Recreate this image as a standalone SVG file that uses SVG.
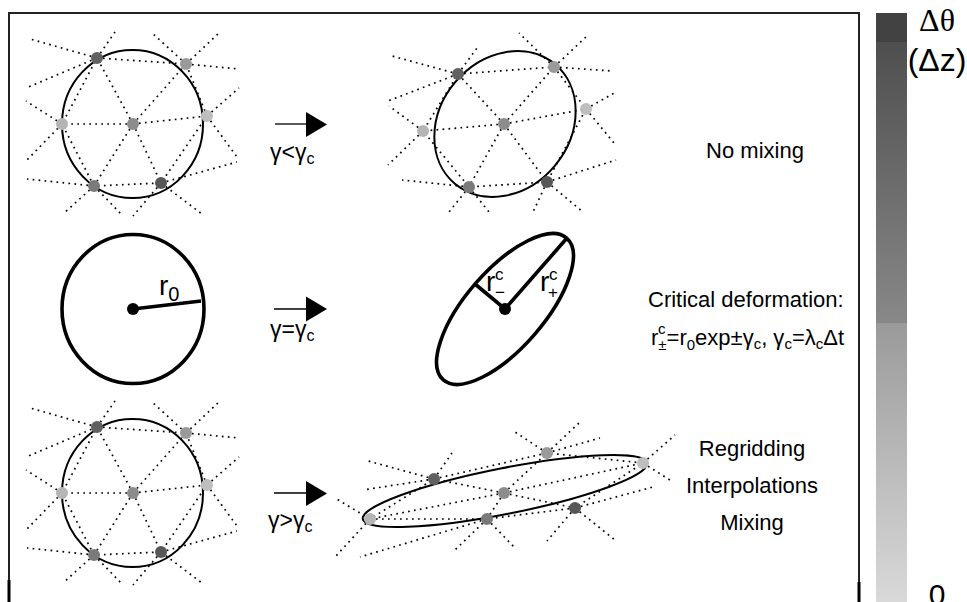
<svg xmlns="http://www.w3.org/2000/svg" width="967" height="602" viewBox="0 0 967 602">
<style>
.dot{fill:none;stroke:#000;stroke-width:1.7;stroke-dasharray:1.7 4.3}
.thin{fill:none;stroke:#000;stroke-width:2}
.thick{fill:none;stroke:#000;stroke-width:3.6}
.t{font-family:"Liberation Sans",Arial,sans-serif;fill:#000}
.n1{fill:#616161}.n2{fill:#9a9a9a}.n3{fill:#bebebe}.n4{fill:#b5b5b5}.n5{fill:#8c8c8c}.n6{fill:#7a7a7a}.n7{fill:#575757}
</style>
<defs>
<linearGradient id="gTop" gradientUnits="userSpaceOnUse" x1="0" y1="42" x2="0" y2="323">
<stop offset="0" stop-color="#4f4f4f"/><stop offset="1" stop-color="#888888"/>
</linearGradient>
<linearGradient id="gBot" gradientUnits="userSpaceOnUse" x1="0" y1="323" x2="0" y2="602">
<stop offset="0" stop-color="#9a9a9a"/><stop offset="1" stop-color="#d9d9d9"/>
</linearGradient>
<polygon id="head" points="0,-12.5 21,0 0,12.5" fill="#000"/>
<g id="grid1">
<path class="dot" d="M133 124L97 58M133 124L186 64M133 124L207 116M133 124L62 124M133 124L94 186M133 124L161 183M97 58L186 64L207 116L161 183L94 186L62 124Z
M97 58L30 39M97 58L115 32M97 58L26 88M186 64L151 32M186 64L219 33M186 64L239 69M207 116L239 88M207 116L237 157M62 124L26 101M62 124L27 160M94 186L27 179M94 186L63 214M94 186L123 216M161 183L237 162M161 183L133 216M161 183L202 214"/>
<ellipse class="thin" cx="132.5" cy="124" rx="70.5" ry="74"/>
<circle class="n1" cx="97" cy="58" r="6"/><circle class="n2" cx="186" cy="64" r="6"/><circle class="n3" cx="207" cy="116" r="6"/><circle class="n4" cx="62" cy="124" r="6"/><circle class="n5" cx="133" cy="124" r="6"/><circle class="n6" cx="94" cy="186" r="6"/><circle class="n7" cx="161" cy="183" r="6"/>
</g>
</defs>

<g id="frame">
<path d="M9 602V13H859V602" fill="none" stroke="#222" stroke-width="2"/>
<path d="M9 580V602M859 582V602" stroke="#000" stroke-width="3"/>
</g>

<g id="row1-initial"><use href="#grid1"/></g>

<g id="row1-deformed">
<path class="dot" d="M504 124L458 74M504 124L554 67M504 124L586 109M504 124L423 131M504 124L469 187M504 124L547 182M458 74L554 67L586 109L547 182L469 187L423 131Z
M458 74L392 56M458 74L477 48M458 74L388 101M554 67L519 33M554 67L587 36M554 67L612 71M586 109L616 92M586 109L614 143M423 131L389 106M423 131L388 165M469 187L402 180M469 187L449 212M469 187L489 212M547 182L616 160M547 182L533 212M547 182L583 212"/>
<ellipse class="thin" cx="505" cy="124" rx="78" ry="65" transform="rotate(-50 505 124)"/>
<circle class="n1" cx="458" cy="74" r="6"/><circle class="n2" cx="554" cy="67" r="6"/><circle class="n3" cx="586" cy="109" r="6"/><circle class="n4" cx="423" cy="131" r="6"/><circle class="n5" cx="504" cy="124" r="6"/><circle class="n6" cx="469" cy="187" r="6"/><circle class="n7" cx="547" cy="182" r="6"/>
</g>
<g id="row1-label"><text class="t" x="755" y="158" font-size="22" text-anchor="middle">No mixing</text></g>

<g id="row2-circle">
<ellipse class="thick" cx="133" cy="309" rx="71" ry="74.5"/>
<line class="thick" x1="133" y1="309" x2="201" y2="301"/>
<circle cx="133" cy="309" r="6" fill="#000"/>
<text class="t" x="159" y="295" font-size="28">r<tspan font-size="20" dy="6">0</tspan></text>
</g>

<g id="row2-ellipse">
<ellipse class="thick" cx="505" cy="309" rx="94" ry="39" transform="rotate(-49 505 309)"/>
<path class="thick" d="M567 238L505 309L475 284"/>
<circle cx="505" cy="309" r="6" fill="#000"/>
<text class="t" x="486" y="291" font-size="28">r</text>
<text class="t" x="495" y="280" font-size="17">c</text>
<text class="t" x="495" y="298" font-size="17">−</text>
<text class="t" x="540" y="291" font-size="28">r</text>
<text class="t" x="549" y="280" font-size="17">c</text>
<text class="t" x="548" y="298" font-size="17">+</text>
</g>
<g id="row2-label">
<text class="t" x="648" y="307" font-size="22">Critical deformation:</text>
<text class="t" x="651" y="345" font-size="22">r<tspan font-size="15" dy="5">±</tspan><tspan dy="-5">=r</tspan><tspan font-size="15" dy="5">0</tspan><tspan dy="-5">exp±γ</tspan><tspan font-size="15" dy="4">c</tspan><tspan dy="-4">, γ</tspan><tspan font-size="15" dy="4">c</tspan><tspan dy="-4">=λ</tspan><tspan font-size="15" dy="4">c</tspan><tspan dy="-4">Δt</tspan></text>
<text class="t" x="658" y="334" font-size="15">c</text>
</g>

<g id="row3-initial"><use href="#grid1" transform="translate(0,369)"/></g>

<g id="row3-deformed">
<path class="dot" d="M504 493L434 479M504 493L547 453M504 493L643 463M504 493L370 519M504 493L487 519M504 493L575 508M434 479L547 453L643 463L575 508L487 519L370 519Z
M434 479L368 461M434 479L452 453M434 479L363 490M547 453L512 430M547 453L579 423M547 453L600 438M643 463L675 435M643 463L673 482M370 519L335 498M370 519L335 557M487 519L360 557M487 519L455 550M487 519L515 548M575 508L653 487M575 508L547 541M575 508L615 540"/>
<ellipse class="thin" cx="505" cy="491" rx="145" ry="23" transform="rotate(-11.2 505 491)"/>
<circle class="n1" cx="434" cy="479" r="6"/><circle class="n2" cx="547" cy="453" r="6"/><circle class="n3" cx="643" cy="463" r="6"/><circle class="n4" cx="370" cy="519" r="6"/><circle class="n5" cx="504" cy="493" r="6"/><circle class="n6" cx="487" cy="519" r="6"/><circle class="n7" cx="575" cy="508" r="6"/>
</g>
<g id="row3-label">
<text class="t" x="752" y="456" font-size="22" text-anchor="middle">Regridding</text>
<text class="t" x="752" y="493" font-size="22" text-anchor="middle">Interpolations</text>
<text class="t" x="752" y="530" font-size="22" text-anchor="middle">Mixing</text>
</g>

<g id="connectors">
<line x1="275" y1="124" x2="307" y2="124" stroke="#000" stroke-width="1.3"/>
<use href="#head" x="306" y="124.5"/>
<text class="t" x="270" y="160" font-size="23">γ&lt;γ<tspan font-size="16" dy="4">c</tspan></text>
<line x1="274" y1="309" x2="307" y2="309" stroke="#000" stroke-width="1.3"/>
<use href="#head" x="306" y="309"/>
<text class="t" x="270" y="337" font-size="23">γ=γ<tspan font-size="16" dy="4">c</tspan></text>
<line x1="274" y1="493" x2="307" y2="493" stroke="#000" stroke-width="1.3"/>
<use href="#head" x="306" y="493.5"/>
<text class="t" x="268" y="528" font-size="23">γ&gt;γ<tspan font-size="16" dy="4">c</tspan></text>
</g>

<g id="colorbar">
<rect x="876" y="13" width="31" height="29" fill="#424242"/>
<rect x="876" y="42" width="31" height="281" fill="url(#gTop)"/>
<rect x="876" y="323" width="31" height="279" fill="url(#gBot)"/>
<text x="937" y="31" font-size="32" text-anchor="middle" font-family="'Liberation Serif','DejaVu Serif',serif">Δθ</text>
<text class="t" x="937" y="71" font-size="32" text-anchor="middle">(Δz)</text>
<text class="t" x="937" y="605" font-size="30" text-anchor="middle">0</text>
</g>
</svg>
